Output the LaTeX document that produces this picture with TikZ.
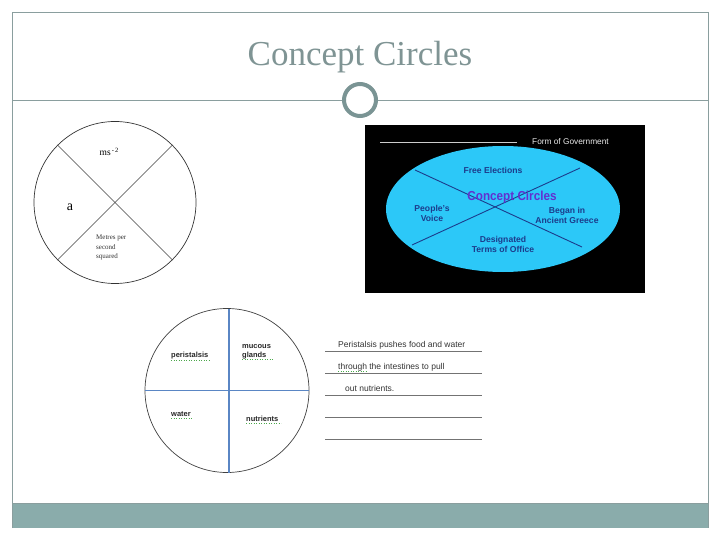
\documentclass[tikz,border=0pt]{standalone}
\usepackage{fontspec}
\setmainfont{Liberation Serif}
\setsansfont{Liberation Sans}
\usetikzlibrary{shapes.geometric}
\definecolor{frame}{HTML}{8A9E9E}
\definecolor{titlec}{HTML}{7F9494}
\definecolor{ringc}{HTML}{7A9494}
\definecolor{band}{HTML}{8AACAB}
\definecolor{skyc}{HTML}{2CC8F8}
\definecolor{navy}{HTML}{1C3C8C}
\definecolor{purp}{HTML}{6230D0}
\definecolor{bluel}{HTML}{5A86C4}
\definecolor{greenu}{HTML}{4CA84C}
\tikzset{
  framel/.style={draw=frame, line width=0.8pt},
  thinc/.style={draw=black!75, line width=0.6pt},
  ellt/.style={font=\sffamily\bfseries\fontsize{8.6}{10}\selectfont, text=navy, align=center, inner sep=0pt},
  c3t/.style={font=\sffamily\bfseries\fontsize{7.5}{9}\selectfont, text=black!85, align=left, inner sep=0pt},
  notet/.style={font=\sffamily\fontsize{8.5}{10}\selectfont, text=black!80, anchor=base west, inner sep=0pt},
  ruleln/.style={draw=black!55, line width=0.7pt},
}
\begin{document}
\begin{tikzpicture}[x=1pt,y=-1pt]
\useasboundingbox (0,0) rectangle (720,540);
% frame
\fill[band] (12,503) rectangle (708,528);
\draw[framel] (12,528) -- (12,12) -- (708,12) -- (708,528);
\draw[framel] (12,503) -- (708,503);
% title
\node[font=\fontsize{35}{40}\selectfont, text=titlec, inner sep=0pt, anchor=base] (title) at (360,66) {Concept Circles};
\node[circle, draw=ringc, line width=4pt, minimum size=32pt, inner sep=0pt] (ring) at (360,100) {};
\coordinate (hl) at (12,100);
\coordinate (hr) at (708,100);
\draw[framel] (hl) -- (ring.west);
\draw[framel] (ring.east) -- (hr);

% circle 1
\node[circle, draw=black!80, line width=0.7pt, minimum size=162pt, inner sep=0pt] (c1) at (115,202.5) {};
\draw[thinc] (c1.135) -- (c1.-45);
\draw[thinc] (c1.45) -- (c1.225);
\node[font=\fontsize{9.5}{10}\selectfont, inner sep=0pt] (ms) at (109,152) {ms\raisebox{2.5pt}{\fontsize{6.5}{7}\selectfont\,-\,2}};
\node[font=\fontsize{14}{15}\selectfont, inner sep=0pt] (aa) at (70,207) {a};
\node[font=\fontsize{7}{9.5}\selectfont, align=left, inner sep=0pt, anchor=north west, text=black!80] (mps) at (96,235) {Metres per\\second\\squared};

% black image
\fill[black] (365,125) rectangle (645,293);
\coordinate (fgl) at (380,142);
\coordinate (fgr) at (517,142);
\draw[draw=black!20, line width=0.8pt] (fgl) -- (fgr);
\node[font=\sffamily\fontsize{8.3}{9}\selectfont, text=black!8, anchor=west, inner sep=0pt] (fog) at (532,142) {Form of Government};
\node[ellipse, fill=skyc, minimum width=234pt, minimum height=126pt, inner sep=0pt] (ell) at (503,209) {};
\coordinate (e1a) at (415,170);
\coordinate (e1b) at (582,247);
\coordinate (e2a) at (580,168);
\coordinate (e2b) at (412,245);
\draw[navy, line width=0.9pt] (e1a) -- (e1b);
\draw[navy, line width=0.9pt] (e2a) -- (e2b);
\node[ellt] (fe) at (493,170) {Free Elections};
\node[font=\sffamily\bfseries\fontsize{13}{14}\selectfont, text=purp, inner sep=0pt, xscale=0.9] (cc) at (512,197) {Concept Circles};
\node[ellt] (pv) at (432,213) {People's\\Voice};
\node[ellt] (ag) at (567,215) {Began in\\Ancient Greece};
\node[ellt] (dt) at (503,244) {Designated\\Terms of Office};

% circle 3
\node[circle, draw=black!75, line width=0.7pt, minimum size=164pt, inner sep=0pt] (c3) at (227,390.5) {};
\coordinate (vt) at (229,308.5);
\coordinate (vb) at (229,472.5);
\draw[bluel, line width=1.5pt] (vt) -- (vb);
\draw[bluel, line width=1.5pt] (c3.west) -- (c3.east);
\node[c3t, anchor=base west] (per) at (171,357) {peristalsis};
\node[c3t, anchor=base west] (muc) at (242,357) {mucous\\glands};
\node[c3t, anchor=base west] (wat) at (171,416) {water};
\node[c3t, anchor=base west] (nut) at (246,421) {nutrients};
\draw[greenu, line width=0.5pt, dotted] (per.south west) ++(0,1.5) -- ++(39,0);
\draw[greenu, line width=0.5pt, dotted] (wat.south west) ++(0,1.5) -- ++(21,0);
\draw[greenu, line width=0.5pt, dotted] (nut.south west) ++(0,1.5) -- ++(35,0);
\draw[greenu, line width=0.5pt, dotted] (242,359) -- (273,359);

% notes lines
\coordinate (l1a) at (325,351); \coordinate (l1b) at (482,351);
\coordinate (l2a) at (325,373); \coordinate (l2b) at (482,373);
\coordinate (l3a) at (325,395); \coordinate (l3b) at (482,395);
\coordinate (l4a) at (325,417); \coordinate (l4b) at (482,417);
\coordinate (l5a) at (325,439); \coordinate (l5b) at (482,439);
\draw[ruleln] (l1a) -- (l1b);
\draw[ruleln] (l2a) -- (l2b);
\draw[ruleln] (l3a) -- (l3b);
\draw[ruleln] (l4a) -- (l4b);
\draw[ruleln] (l5a) -- (l5b);
\node[notet] (n1) at (338,347) {Peristalsis pushes food and water};
\node[notet] (n2) at (338,369) {through the intestines to pull};
\node[notet] (n3) at (345,391) {out nutrients.};
\draw[greenu, line width=0.5pt, dotted] (338,371) -- (366,371);
\end{tikzpicture}
\end{document}
